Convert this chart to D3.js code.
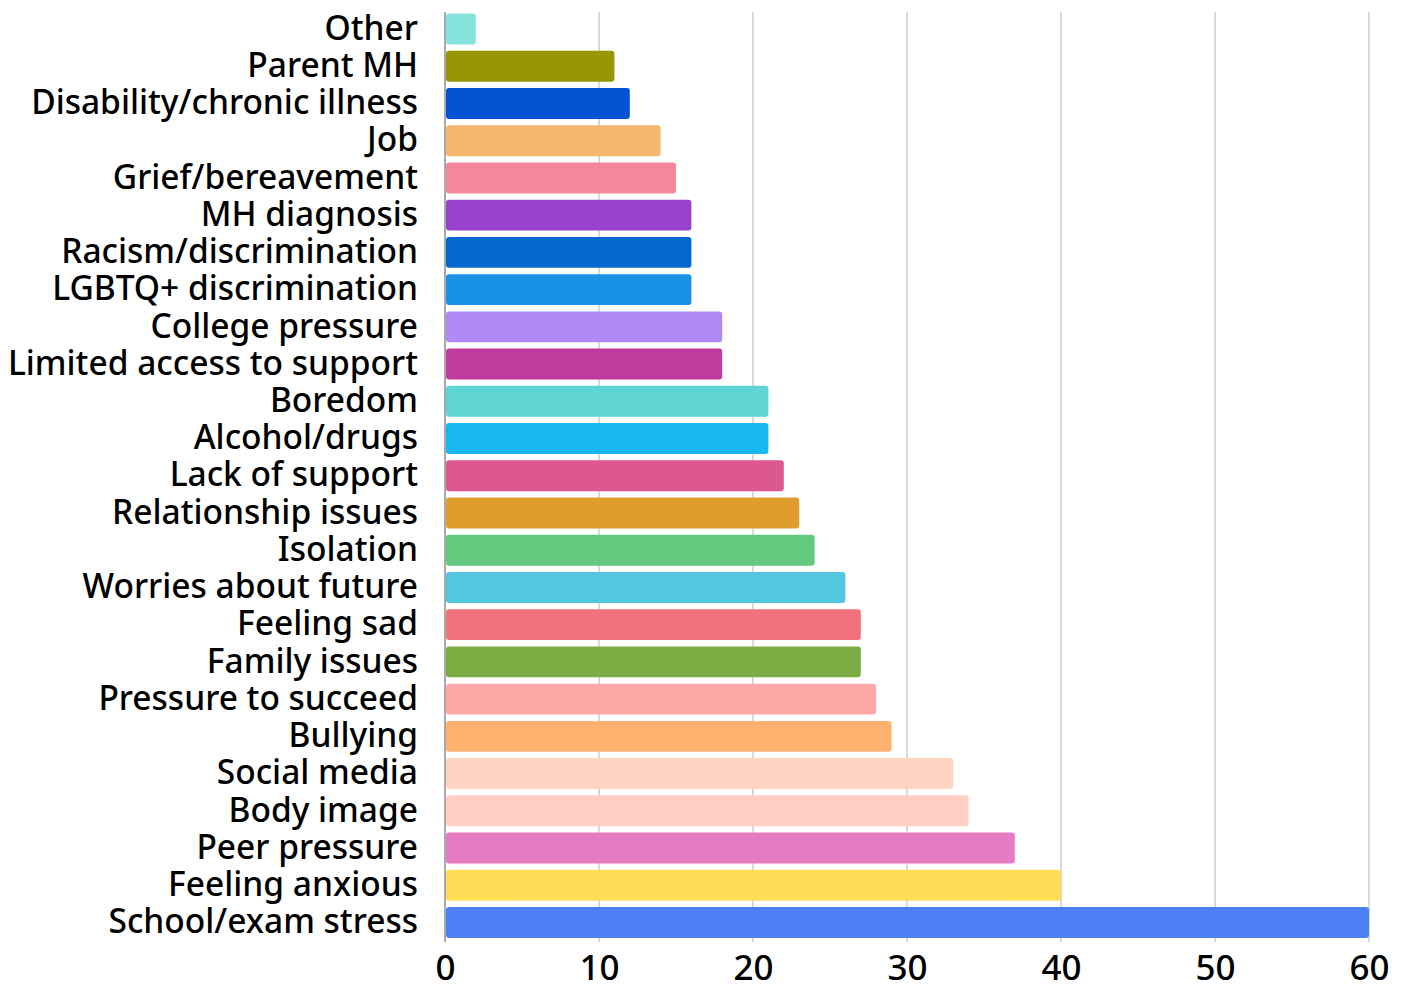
<!DOCTYPE html>
<html><head><meta charset="utf-8">
<script src="https://cdn.jsdelivr.net/npm/d3@7"></script>
<style>body{margin:0;background:#fff}svg{display:block}text{font-family:"Noto Sans",sans-serif}</style>
</head><body>
<svg id="c" width="1410" height="984"></svg>
<script>
const categories = ["Other","Parent MH","Disability/chronic illness","Job","Grief/bereavement","MH diagnosis","Racism/discrimination","LGBTQ+ discrimination","College pressure","Limited access to support","Boredom","Alcohol/drugs","Lack of support","Relationship issues","Isolation","Worries about future","Feeling sad","Family issues","Pressure to succeed","Bullying","Social media","Body image","Peer pressure","Feeling anxious","School/exam stress"];
const values = [2,11,12,14,15,16,16,16,18,18,21,21,22,23,24,26,27,27,28,29,33,34,37,40,60];
const colors = ["#85E3DC","#989603","#0254D2","#F3B86E","#F4889A","#9642CC","#0268D0","#1991E4","#AE8AF2","#C13A9E","#5ED5D3","#1AB8F0","#DE5890","#E09C2D","#62C97E","#53C7DE","#EF727C","#7DAC45","#FEA9A8","#FFB170","#FFD2C2","#FFCEC4","#E77BC3","#FFDD57","#4C80F4"];
const xTicks = [0,10,20,30,40,50,60];

const svg = d3.select("#c");
const x = d3.scaleLinear().domain([0,60]).range([445,1369]);
const y = d3.scaleBand().domain(categories).range([10.4,941.1]).paddingInner(0.17).paddingOuter(0.085);

// gridlines
svg.append("g").selectAll("line").data(xTicks.filter(d=>d>0)).join("line")
  .attr("x1",d=>x(d)).attr("x2",d=>x(d)).attr("y1",12).attr("y2",942)
  .attr("stroke","#cccccc").attr("stroke-width",1.5);

// bars
svg.append("g").selectAll("rect").data(categories).join("rect")
  .attr("x",x(0)+1).attr("y",d=>y(d))
  .attr("width",(d,i)=>x(values[i])-x(0)-1).attr("height",y.bandwidth())
  .attr("rx",3).attr("fill",(d,i)=>colors[i]);

// zero axis line
svg.append("line").attr("x1",x(0)).attr("x2",x(0)).attr("y1",12).attr("y2",942)
  .attr("stroke","#555").attr("stroke-width",1);

// y labels
const yAxis = d3.axisLeft(y).tickSize(0).tickPadding(27);
const gy = svg.append("g").attr("transform",`translate(${x(0)},0)`).call(yAxis);
gy.select(".domain").remove();
gy.selectAll("text").attr("font-size",33.5).attr("font-weight",500).attr("fill","#000").attr("font-family","Noto Sans");

// x axis
const xAxis = d3.axisBottom(x).tickValues(xTicks).tickSize(0).tickPadding(0);
const gx = svg.append("g").attr("transform","translate(0,980)").call(xAxis);
gx.select(".domain").remove();
gx.selectAll("text").attr("font-size",35).attr("font-weight",500).attr("fill","#000").attr("font-family","Noto Sans").attr("y",0).attr("dy","0");
</script>
</body></html>
